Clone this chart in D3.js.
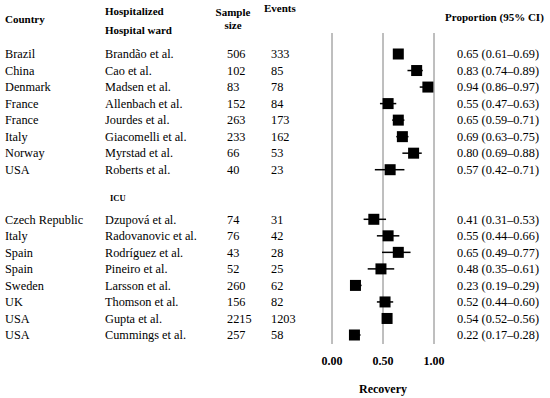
<!DOCTYPE html>
<html>
<head>
<meta charset="utf-8">
<script src="https://cdn.jsdelivr.net/npm/d3@7"></script>
<style>
  body { margin: 0; background: #fff; }
</style>
</head>
<body>
<svg id="forest" width="550" height="398"></svg>
<script>
// study rows, hospital ward first, ICU after
const countries = ["Brazil", "China", "Denmark", "France", "France", "Italy", "Norway", "USA",
  "Czech Republic", "Italy", "Spain", "Spain", "Sweden", "UK", "USA", "USA"];
const authors = ["Brandão et al.", "Cao et al.", "Madsen et al.", "Allenbach et al.", "Jourdes et al.",
  "Giacomelli et al.", "Myrstad et al.", "Roberts et al.",
  "Dzupová et al.", "Radovanovic et al.", "Rodríguez et al.", "Pineiro et al.", "Larsson et al.",
  "Thomson et al.", "Gupta et al.", "Cummings et al."];
const groups = ["ward", "ward", "ward", "ward", "ward", "ward", "ward", "ward",
  "icu", "icu", "icu", "icu", "icu", "icu", "icu", "icu"];
const sampleSize = [506, 102, 83, 152, 263, 233, 66, 40, 74, 76, 43, 52, 260, 156, 2215, 257];
const events = [333, 85, 78, 84, 173, 162, 53, 23, 31, 42, 28, 25, 62, 82, 1203, 58];
const proportion = [0.65, 0.83, 0.94, 0.55, 0.65, 0.69, 0.80, 0.57, 0.41, 0.55, 0.65, 0.48, 0.23, 0.52, 0.54, 0.22];
const ciLow = [0.61, 0.74, 0.86, 0.47, 0.59, 0.63, 0.69, 0.42, 0.31, 0.44, 0.49, 0.35, 0.19, 0.44, 0.52, 0.17];
const ciHigh = [0.69, 0.89, 0.97, 0.63, 0.71, 0.75, 0.88, 0.71, 0.53, 0.66, 0.77, 0.61, 0.29, 0.60, 0.56, 0.28];
const xTicks = [0, 0.5, 1];

const svg = d3.select("#forest")
  .attr("font-family", "'Liberation Serif', 'DejaVu Serif', serif");
const fmt = d3.format(".2f");

const rows = countries.map(function(c, i){
  return {country: c, author: authors[i], group: groups[i], n: sampleSize[i], ev: events[i],
    p: proportion[i], lo: ciLow[i], hi: ciHigh[i],
    idx: groups[i] === "ward" ? i : i + 2};
});

// row index -> y (ICU block sits two rows lower)
const yScale = d3.scaleLinear().domain([0, 17]).range([54, 335]);
const xScale = d3.scaleLinear().domain([0, 1]).range([332, 434]);

// headers
const hdr = svg.append("g").attr("font-weight", "bold").attr("font-size", 11).attr("fill", "#000");
hdr.append("text").attr("x", 5).attr("y", 23).text("Country");
hdr.append("text").attr("x", 105).attr("y", 15).text("Hospitalized");
hdr.append("text").attr("x", 105).attr("y", 34).text("Hospital ward");
hdr.append("text").attr("x", 233).attr("y", 16).attr("text-anchor", "middle").text("Sample");
hdr.append("text").attr("x", 233).attr("y", 29).attr("text-anchor", "middle").text("size");
hdr.append("text").attr("x", 264).attr("y", 12).text("Events");
hdr.append("text").attr("x", 445).attr("y", 21).text("Proportion (95% CI)");
svg.append("text").attr("x", 110).attr("y", yScale(8.9)).attr("font-weight", "bold")
  .attr("font-size", 8.5).text("ICU");

// vertical reference lines
svg.append("g").selectAll("line").data(xTicks).enter().append("line")
  .attr("x1", function(d){ return xScale(d); })
  .attr("x2", function(d){ return xScale(d); })
  .attr("y1", 33).attr("y2", 344)
  .attr("stroke", "#7f7f7f").attr("stroke-width", 1);

// table text
const tbl = svg.append("g").attr("font-size", 12.3).attr("fill", "#000");
const rowG = tbl.selectAll("g.row").data(rows).enter().append("g").attr("class", "row")
  .attr("transform", function(d){ return "translate(0," + (yScale(d.idx) + 4.3) + ")"; });
rowG.append("text").attr("x", 5).text(function(d){ return d.country; });
rowG.append("text").attr("x", 105).text(function(d){ return d.author; });
rowG.append("text").attr("x", 227).text(function(d){ return d.n; });
rowG.append("text").attr("x", 271).text(function(d){ return d.ev; });
rowG.append("text").attr("x", 457)
  .text(function(d){ return fmt(d.p) + " (" + fmt(d.lo) + "\u2013" + fmt(d.hi) + ")"; });

// CI whiskers and squares
const marks = svg.append("g");
marks.selectAll("line.ci").data(rows).enter().append("line").attr("class", "ci")
  .attr("x1", function(d){ return xScale(d.lo); })
  .attr("x2", function(d){ return xScale(d.hi); })
  .attr("y1", function(d){ return yScale(d.idx); })
  .attr("y2", function(d){ return yScale(d.idx); })
  .attr("stroke", "#000").attr("stroke-width", 1.5);
const box = 11;
marks.selectAll("rect").data(rows).enter().append("rect")
  .attr("x", function(d){ return xScale(d.p) - box / 2; })
  .attr("y", function(d){ return yScale(d.idx) - box / 2; })
  .attr("width", box).attr("height", box)
  .attr("fill", "#000");

// axis labels
svg.append("g").attr("font-weight", "bold").attr("font-size", 12)
  .selectAll("text").data(xTicks).enter().append("text")
  .attr("x", function(d){ return xScale(d); })
  .attr("y", 365).attr("text-anchor", "middle")
  .text(function(d){ return fmt(d); });
svg.append("text").attr("x", xScale(0.5)).attr("y", 393).attr("text-anchor", "middle")
  .attr("font-weight", "bold").attr("font-size", 12).text("Recovery");
</script>
</body>
</html>
